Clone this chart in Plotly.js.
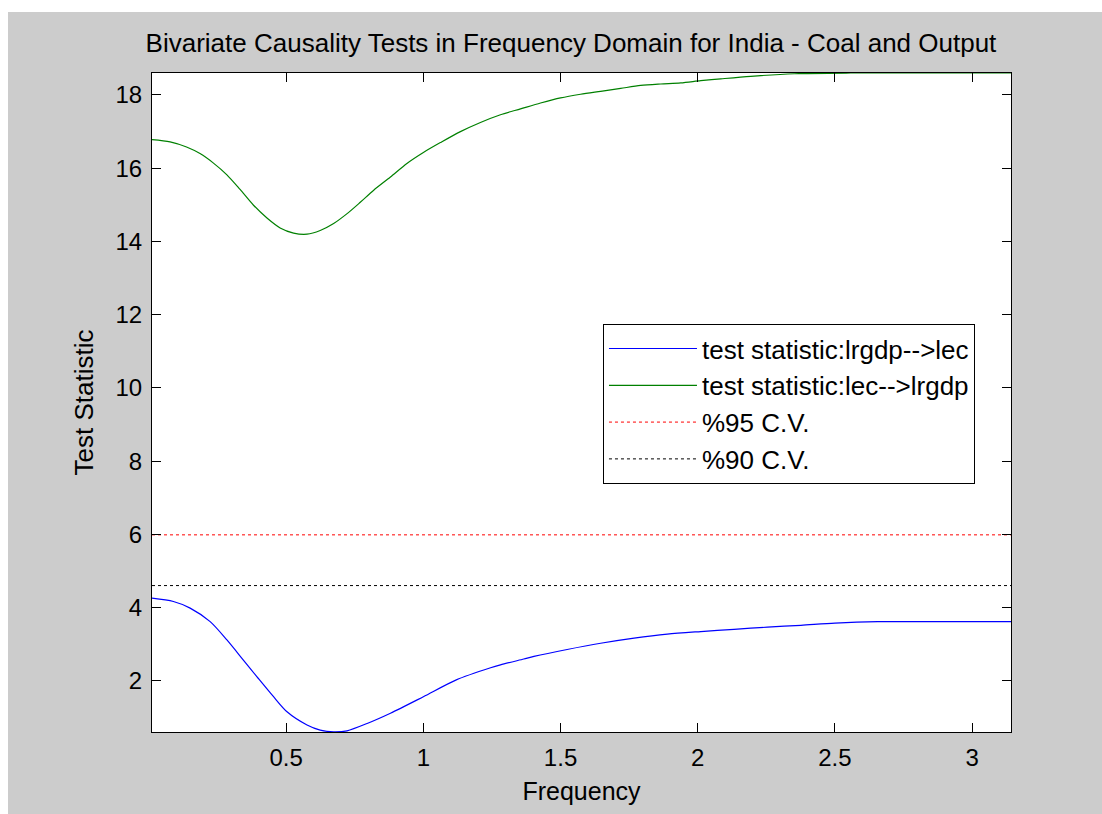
<!DOCTYPE html>
<html>
<head>
<meta charset="utf-8">
<script src="https://cdn.plot.ly/plotly-3.0.1.min.js"></script>
<style>
  html, body { margin: 0; padding: 0; background: #ffffff; width: 1102px; height: 814px; overflow: hidden; }
  #chart { position: absolute; left: 8px; top: 12px; width: 1094px; height: 802px; }
</style>
</head>
<body>
<div id="chart"></div>
<script>
// Frequency grid (x) and test statistics
const freqBlue = [0.011, 0.089, 0.15, 0.223, 0.284, 0.344, 0.393, 0.454, 0.503, 0.576, 0.624, 0.673, 0.722, 0.795, 0.88, 1.0, 1.12, 1.245, 1.281, 1.366, 1.403, 1.524, 1.646, 1.768, 1.889, 2.011, 2.132, 2.254, 2.376, 2.5, 2.656, 2.9, 3.1416];
const statBlue = [4.26, 4.17, 3.99, 3.62, 3.12, 2.57, 2.12, 1.57, 1.16, 0.80, 0.66, 0.61, 0.64, 0.84, 1.12, 1.57, 2.03, 2.36, 2.44, 2.60, 2.67, 2.86, 3.03, 3.17, 3.28, 3.35, 3.41, 3.47, 3.52, 3.58, 3.62, 3.62, 3.62];

const freqGreen = [0.011, 0.077, 0.137, 0.186, 0.235, 0.284, 0.332, 0.381, 0.43, 0.478, 0.527, 0.576, 0.624, 0.673, 0.722, 0.77, 0.819, 0.88, 0.94, 1.0, 1.062, 1.135, 1.208, 1.281, 1.354, 1.427, 1.5, 1.573, 1.646, 1.719, 1.792, 1.865, 1.938, 2.011, 2.084, 2.193, 2.352, 2.558, 2.8, 3.1416];
const statGreen = [16.78, 16.72, 16.58, 16.40, 16.14, 15.82, 15.42, 14.99, 14.64, 14.37, 14.23, 14.20, 14.30, 14.49, 14.76, 15.07, 15.40, 15.76, 16.13, 16.43, 16.70, 17.00, 17.25, 17.46, 17.62, 17.78, 17.92, 18.02, 18.10, 18.18, 18.26, 18.30, 18.33, 18.39, 18.44, 18.51, 18.58, 18.60, 18.60, 18.60];

const cvX = [0.011, 3.1416];
const cv95 = [5.99, 5.99];
const cv90 = [4.605, 4.605];

const seriesNames = ['test statistic:lrgdp-->lec', 'test statistic:lec-->lrgdp', '%95 C.V.', '%90 C.V.'];
const xTicks = [0.5, 1, 1.5, 2, 2.5, 3];
const xTickText = ['0.5', '1', '1.5', '2', '2.5', '3'];
const yTicks = [2, 4, 6, 8, 10, 12, 14, 16, 18];
const yTickText = ['2', '4', '6', '8', '10', '12', '14', '16', '18'];

const FONT = '"Liberation Sans", Arial, Helvetica, sans-serif';

const traces = [
  { x: freqBlue, y: statBlue, name: seriesNames[0], mode: 'lines', line: { color: '#0000ff', width: 1.2, shape: 'spline', smoothing: 0.8 } },
  { x: freqGreen, y: statGreen, name: seriesNames[1], mode: 'lines', line: { color: '#008000', width: 1.2, shape: 'spline', smoothing: 0.8 } },
  { x: cvX, y: cv95, name: seriesNames[2], mode: 'lines', line: { color: '#ff0000', width: 1, dash: 'dot' } },
  { x: cvX, y: cv90, name: seriesNames[3], mode: 'lines', line: { color: '#000000', width: 1, dash: 'dot' } }
];

const axisCommon = {
  showgrid: false, zeroline: false, showline: true, linecolor: '#000000', linewidth: 1,
  mirror: 'ticks', ticks: 'inside', ticklen: 9, tickwidth: 1, tickcolor: '#000000',
  tickfont: { family: FONT, size: 24, color: '#000000' }
};

const layout = {
  width: 1094, height: 802,
  paper_bgcolor: '#cccccc', plot_bgcolor: '#ffffff',
  margin: { l: 144, r: 91, t: 61, b: 82, pad: 0 },
  font: { family: FONT, size: 24, color: '#000000' },
  title: { text: 'Bivariate Causality Tests in Frequency Domain for India - Coal and Output',
           font: { family: FONT, size: 26, color: '#000000' }, x: 0.5146, xanchor: 'center', y: 0.962, yanchor: 'middle' },
  xaxis: Object.assign({}, axisCommon, {
    range: [0.011, 3.1416], tickvals: xTicks, ticktext: xTickText, ticklabelstandoff: 4,
    title: { text: 'Frequency', font: { family: FONT, size: 25, color: '#000000' }, standoff: 12 }
  }),
  yaxis: Object.assign({}, axisCommon, {
    range: [0.607, 18.6], tickvals: yTicks, ticktext: yTickText, ticklabelstandoff: 4,
    title: { text: 'Test Statistic', font: { family: FONT, size: 26, color: '#000000' }, standoff: 14 }
  }),
  showlegend: true,
  legend: {
    x: 0.525, y: 0.619, xanchor: 'left', yanchor: 'top',
    bgcolor: '#ffffff', bordercolor: '#000000', borderwidth: 1,
    font: { family: FONT, size: 26, color: '#000000' },
    itemwidth: 88, tracegroupgap: 0
  }
};

Plotly.newPlot('chart', traces, layout, { staticPlot: true, displayModeBar: false });
</script>
</body>
</html>
